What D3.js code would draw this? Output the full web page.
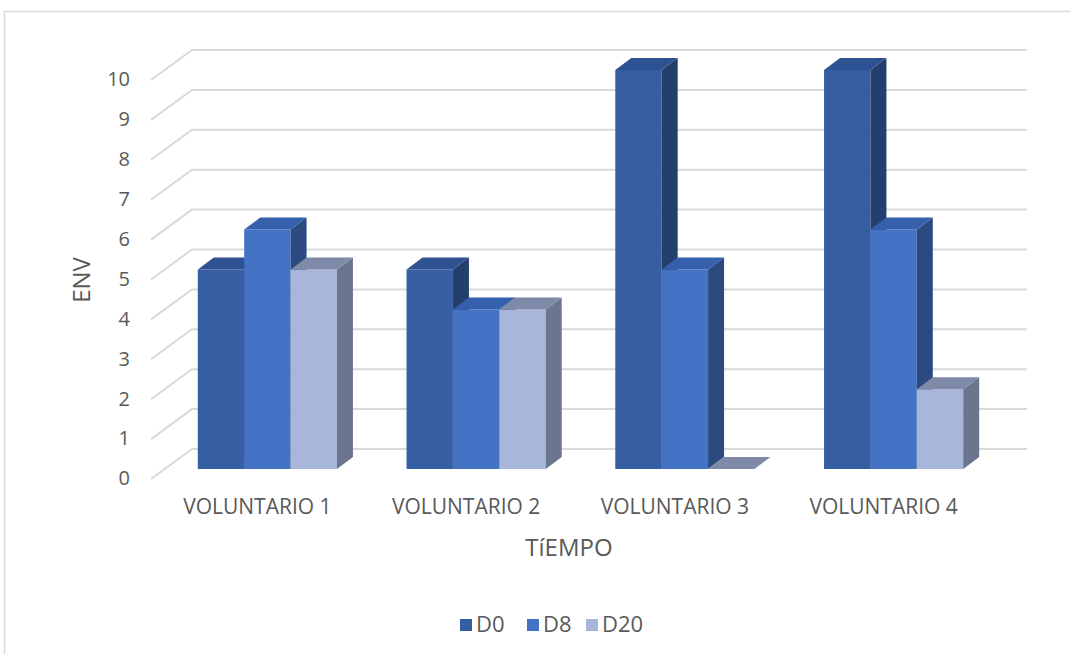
<!DOCTYPE html>
<html>
<head>
<meta charset="utf-8">
<script src="https://cdn.jsdelivr.net/npm/d3@7"></script>
<style>
  html, body { margin: 0; padding: 0; background: #fff; }
  svg { display: block; }
  text { font-family: "Open Sans", "Liberation Sans", sans-serif; fill: #595959; }
</style>
</head>
<body>
<svg id="chart" width="1070" height="654"></svg>
<script>
// Chart data
const categories = ["VOLUNTARIO 1", "VOLUNTARIO 2", "VOLUNTARIO 3", "VOLUNTARIO 4"];
const series = ["D0", "D8", "D20"];
const valuesD0 = [5, 5, 10, 10];
const valuesD8 = [6, 4, 5, 6];
const valuesD20 = [5, 4, 0, 2];
const yTicks = [0, 1, 2, 3, 4, 5, 6, 7, 8, 9, 10];
const xTitle = "TíEMPO";
const yTitle = "ENV";

// Face colours per series: front, side, top
const palette = {
  D0:  { front: "#365EA3", side: "#243F6D", top: "#2E5191", legend: "#355DA2" },
  D8:  { front: "#4472C4", side: "#2B4A80", top: "#3560AC", legend: "#4472C4" },
  D20: { front: "#A9B6DB", side: "#6B768E", top: "#7F89A8", legend: "#A9B6DB" }
};

const seriesValues = { D0: valuesD0, D8: valuesD8, D20: valuesD20 };

const svg = d3.select("#chart");

// Outer chart frame
svg.append("rect")
  .attr("x", 4.5).attr("y", 11.5)
  .attr("width", 1100).attr("height", 700)
  .attr("fill", "none").attr("stroke", "#D9D9D9").attr("stroke-width", 1.5);

// Front plane of the 3D box
const x = d3.scaleBand()
  .domain(categories)
  .range([151, 986])
  .paddingInner(1 / 3)
  .paddingOuter(1 / 6);
const xs = d3.scaleBand().domain(series).range([0, x.bandwidth()]);
const y = d3.scaleLinear().domain([0, 10]).range([479, 80]);

// Projection offsets for the wall depth and the bar depth
const wallDX = 41, wallDY = -30;
const barOX = 12, barOY = -10;
const barDX = 16, barDY = -12;

// Gridlines: side wall diagonals + back wall horizontals
const grid = svg.append("g").attr("stroke", "#D9D9D9").attr("stroke-width", 2).attr("fill", "none");
yTicks.forEach(t => {
  const yf = y(t);
  grid.append("path")
    .attr("d", `M${151},${yf} L${151 + wallDX},${yf + wallDY} L${986 + wallDX},${yf + wallDY}`);
});

// Y tick labels
svg.append("g").selectAll("text").data(yTicks).join("text")
  .attr("x", 130).attr("y", d => y(d) + 1)
  .attr("text-anchor", "end").attr("dominant-baseline", "middle")
  .attr("font-size", 20)
  .text(d => d);

// Bars (drawn left to right so nearer faces overlap correctly)
const bars = svg.append("g");
categories.forEach((c, ci) => {
  series.forEach(s => {
    const v = seriesValues[s][ci];
    const x0 = x(c) + xs(s) + barOX;
    const x1 = x0 + xs.bandwidth();
    const yb = y(0) + barOY;
    const yt = y(v) + barOY;
    const col = palette[s];
    const g = bars.append("g");
    if (v > 0) {
      g.append("path")
        .attr("d", `M${x0},${yb} L${x0},${yt} L${x1},${yt} L${x1},${yb} Z`)
        .attr("fill", col.front);
      g.append("path")
        .attr("d", `M${x1},${yb} L${x1},${yt} L${x1 + barDX},${yt + barDY} L${x1 + barDX},${yb + barDY} Z`)
        .attr("fill", col.side);
    }
    g.append("path")
      .attr("d", `M${x0},${yt} L${x1},${yt} L${x1 + barDX},${yt + barDY} L${x0 + barDX},${yt + barDY} Z`)
      .attr("fill", col.top);
  });
});

// Category labels
svg.append("g").selectAll("text").data(categories).join("text")
  .attr("x", d => x(d) + x.bandwidth() / 2 + 2)
  .attr("y", 508)
  .attr("text-anchor", "middle").attr("dominant-baseline", "middle")
  .attr("font-size", 21)
  .text(d => d);

// Axis titles
svg.append("text")
  .attr("x", 569).attr("y", 550)
  .attr("text-anchor", "middle").attr("dominant-baseline", "middle")
  .attr("font-size", 24)
  .text(xTitle);

svg.append("text")
  .attr("transform", "translate(84,280) rotate(-90)")
  .attr("text-anchor", "middle").attr("dominant-baseline", "middle")
  .attr("font-size", 24)
  .text(yTitle);

// Legend
const legendX = [460, 527, 586];
const legend = svg.append("g").selectAll("g").data(series).join("g")
  .attr("transform", (d, i) => `translate(${legendX[i]},619)`);
legend.append("rect")
  .attr("width", 12).attr("height", 12)
  .attr("fill", d => palette[d].legend);
legend.append("text")
  .attr("x", 16).attr("y", 7)
  .attr("dominant-baseline", "middle")
  .attr("font-size", 22)
  .text(d => d);
</script>
</body>
</html>
